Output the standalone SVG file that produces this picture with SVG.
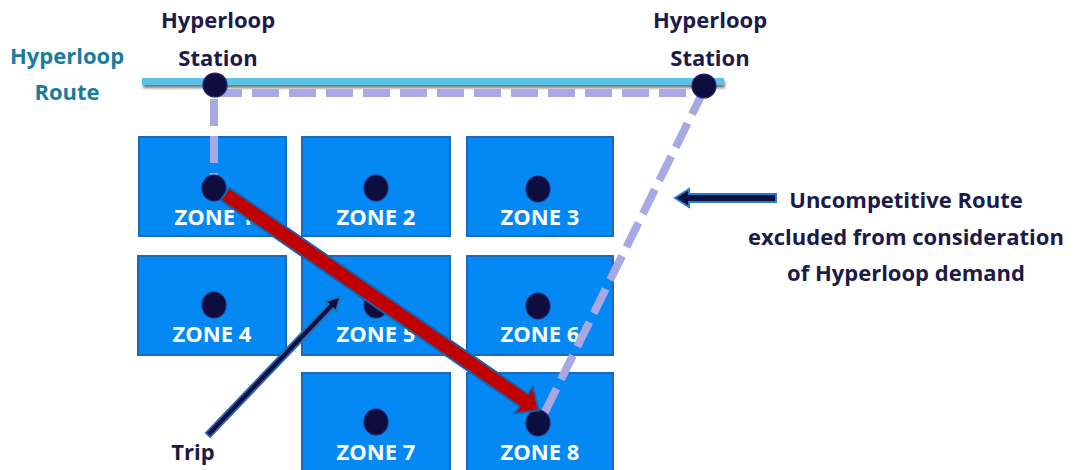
<svg xmlns="http://www.w3.org/2000/svg" width="1079" height="470" viewBox="0 0 1079 470">
  <defs>
    <style>
      .zone rect { fill: #0388f4; stroke: #1d69b8; stroke-width: 2; }
      .zone text, .lbl { font-family: "Open Sans", Lato, sans-serif; font-weight: 700; text-anchor: middle; font-size: 22px; }
      .zone text { fill: #ffffff; }
      .dot { fill: #0e0e3e; stroke: #262670; stroke-width: 1.2; }
      .navy { fill: #1b1a48; }
      .teal { fill: #1a7b9b; }
      .dash { fill: none; stroke: #a9a8e6; stroke-width: 8; stroke-dasharray: 27 10; }
    </style>
    <filter id="shadow" filterUnits="userSpaceOnUse" x="130" y="70" width="610" height="30">
      <feGaussianBlur in="SourceAlpha" stdDeviation="1.5"/>
      <feOffset dx="1" dy="3" result="b"/>
      <feFlood flood-color="#555" flood-opacity="0.8"/>
      <feComposite in2="b" operator="in"/>
      <feMerge><feMergeNode/><feMergeNode in="SourceGraphic"/></feMerge>
    </filter>
  </defs>

  <rect width="1079" height="470" fill="#ffffff"/>

  <!-- labels -->
  <g id="route-label">
    <text class="lbl teal" x="67" y="64">Hyperloop</text>
    <text class="lbl teal" x="67" y="100">Route</text>
  </g>
  <g id="station-labels">
    <text class="lbl navy" x="218" y="28">Hyperloop</text>
    <text class="lbl navy" x="218" y="66">Station</text>
    <text class="lbl navy" x="710" y="28">Hyperloop</text>
    <text class="lbl navy" x="710" y="66">Station</text>
  </g>

  <!-- zones -->
  <g id="zone1" class="zone"><rect x="139" y="137" width="147" height="99"/><text x="214" y="225">ZONE 1</text></g>
  <g id="zone2" class="zone"><rect x="302" y="137" width="148" height="99"/><text x="376" y="225">ZONE 2</text></g>
  <g id="zone3" class="zone"><rect x="467" y="137" width="146" height="99"/><text x="540" y="225">ZONE 3</text></g>
  <g id="zone4" class="zone"><rect x="138" y="256" width="148" height="99"/><text x="212" y="342">ZONE 4</text></g>
  <g id="zone5" class="zone"><rect x="302" y="256" width="148" height="99"/><text x="376" y="342">ZONE 5</text></g>
  <g id="zone6" class="zone"><rect x="467" y="256" width="146" height="99"/><text x="540" y="342">ZONE 6</text></g>
  <g id="zone7" class="zone"><rect x="302" y="373" width="148" height="105"/><text x="376" y="460">ZONE 7</text></g>
  <g id="zone8" class="zone"><rect x="467" y="373" width="146" height="105"/><text x="540" y="460">ZONE 8</text></g>

  <!-- hyperloop route line -->
  <g id="route">
    <rect x="142" y="78" width="582" height="7" fill="#5cc2e8" filter="url(#shadow)"/>
  </g>

  <!-- connectors -->
  <g id="connectors">
    <path class="dash" d="M214,99 V200"/>
    <path class="dash" d="M215,93 H704"/>
    <path class="dash" d="M704,90 L541,420"/>

    <!-- zone centroids -->
    <ellipse class="dot" cx="214" cy="188" rx="12" ry="13"/>
    <ellipse class="dot" cx="376" cy="188" rx="12" ry="13"/>
    <ellipse class="dot" cx="538" cy="189" rx="12" ry="13"/>
    <ellipse class="dot" cx="214" cy="305" rx="12" ry="13"/>
    <ellipse class="dot" cx="376" cy="305" rx="12" ry="13"/>
    <ellipse class="dot" cx="538" cy="306" rx="12" ry="13"/>
    <ellipse class="dot" cx="376" cy="422" rx="12" ry="13"/>
    <ellipse class="dot" cx="538" cy="423" rx="12" ry="13"/>

    <!-- trip arrow -->
    <polygon transform="translate(225,194) rotate(34.6)" points="0,-7.5 363,-7.5 363,-16 381,0 363,16 363,7.5 0,7.5" fill="#c00000" stroke="#1f5fa8" stroke-width="2" stroke-linejoin="miter"/>

    <!-- pointer to trip -->
    <polygon transform="translate(208,435) rotate(-46.3)" points="0,-3 178,-3 178,-7 191,0 178,7 178,3 0,3" fill="#101040" stroke="#2a6db5" stroke-width="1.8"/>

    <!-- pointer to uncompetitive route -->
    <polygon points="776,194 689,194 689,189 675,198 689,207 689,202 776,202" fill="#101040" stroke="#2a7bd0" stroke-width="2"/>

    <!-- stations -->
    <circle class="dot" cx="215" cy="85" r="12"/>
    <circle class="dot" cx="704" cy="86" r="12"/>
  </g>

  <g id="trip-label"><text class="lbl navy" x="193" y="460">Trip</text></g>

  <g id="note">
    <text class="lbl navy" x="906" y="208">Uncompetitive Route</text>
    <text class="lbl navy" x="906" y="245">excluded from consideration</text>
    <text class="lbl navy" x="906" y="281">of Hyperloop demand</text>
  </g>
</svg>
